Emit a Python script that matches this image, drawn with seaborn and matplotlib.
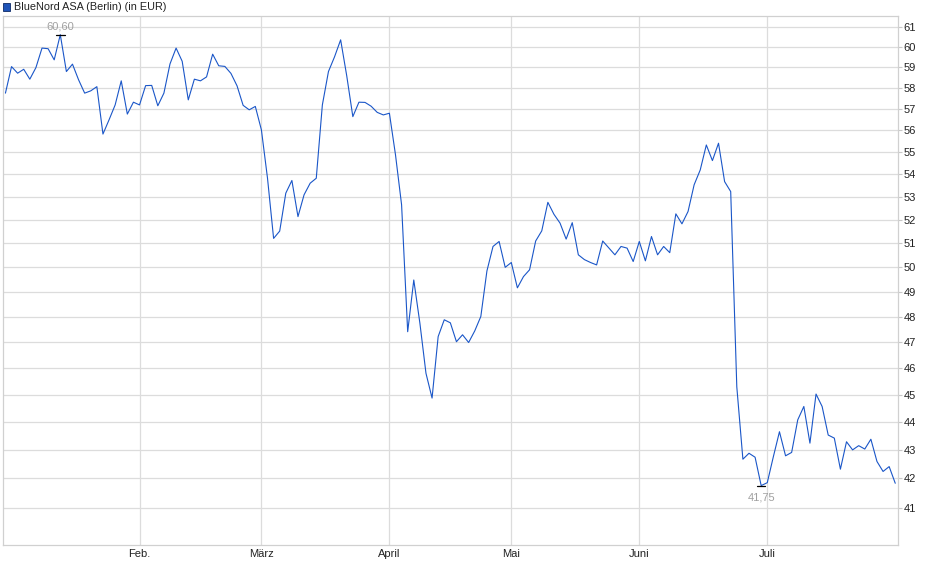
import numpy as np
import pandas as pd
import seaborn as sns
import matplotlib.pyplot as plt
from matplotlib.patches import Rectangle
from matplotlib.ticker import FixedLocator, FixedFormatter, NullLocator

# BlueNord ASA (Berlin), closing prices in EUR, one value per trading day (Jan - Jul)
close = [
    57.74, 59.02, 58.70, 58.89, 58.41, 58.97, 59.93, 59.90, 59.35, 60.60,
    58.78, 59.14, 58.38, 57.74, 57.85, 58.05, 55.82, 56.48, 57.18, 58.33,
    56.75, 57.31, 57.18, 58.10, 58.11, 57.14, 57.74, 59.15, 59.93, 59.28,
    57.42, 58.41, 58.33, 58.52, 59.63, 59.06, 59.03, 58.69, 58.09, 57.16,
    56.95, 57.11, 56.01, 53.82, 51.21, 51.52, 53.16, 53.72, 52.14, 53.09,
    53.60, 53.82, 57.18, 58.78, 59.50, 60.34, 58.57, 56.63, 57.31, 57.30,
    57.12, 56.83, 56.71, 56.79, 54.87, 52.65, 47.41, 49.48, 47.75, 45.81,
    44.88, 47.22, 47.88, 47.76, 47.02, 47.29, 46.99, 47.44, 48.01, 49.85,
    50.87, 51.08, 50.00, 50.20, 49.16, 49.62, 49.90, 51.10, 51.53, 52.76,
    52.24, 51.86, 51.18, 51.88, 50.52, 50.32, 50.20, 50.10, 51.10, 50.81,
    50.52, 50.87, 50.80, 50.24, 51.08, 50.27, 51.29, 50.52, 50.87, 50.61,
    52.26, 51.83, 52.36, 53.53, 54.19, 55.32, 54.61, 55.40, 53.67, 53.23,
    45.30, 42.67, 42.88, 42.74, 41.75, 41.85, 42.76, 43.65, 42.79, 42.91,
    44.08, 44.57, 43.24, 45.03, 44.57, 43.53, 43.42, 42.32, 43.29, 43.00,
    43.15, 43.03, 43.38, 42.59, 42.24, 42.41, 41.83,
]
day = np.arange(len(close))

# first trading day of each month (index into close)
month_pos = [22, 42, 63, 83, 104, 125]
month_labels = ["Feb.", "März", "April", "Mai", "Juni", "Juli"]
price_ticks = list(range(41, 62))

df = pd.DataFrame({"day": day, "close": close})

sns.set_style("white")
plt.rcParams["font.family"] = ["Liberation Sans", "DejaVu Sans"]

fig = plt.figure(figsize=(9.4, 5.79), dpi=100)
ax = fig.add_axes([3 / 940, 1 - 545 / 579, 895 / 940, 529 / 579])

line_color = "#1a56c8"
grid_color = "#dcdcdc"

sns.lineplot(data=df, x="day", y="close", ax=ax, color=line_color, linewidth=0.8)

ax.set_yscale("log")
ax.set_ylim(39.75, 61.54)
ax.set_xlim(-0.4, 146.45)

ax.yaxis.set_major_locator(FixedLocator(price_ticks))
ax.yaxis.set_major_formatter(FixedFormatter([str(t) for t in price_ticks]))
ax.yaxis.set_minor_locator(NullLocator())
ax.yaxis.tick_right()
ax.tick_params(axis="y", which="major", length=3, width=0.8, color="#c8c8c8",
               labelsize=8, pad=0.8, labelcolor="#222222")

ax.set_xticks(month_pos)
ax.set_xticklabels(month_labels)
ax.tick_params(axis="x", length=0, labelsize=8, pad=3, labelcolor="#222222")

ax.grid(True, color=grid_color, linewidth=0.9)
ax.set_axisbelow(True)
for s in ax.spines.values():
    s.set_color("#d0d0d0")
    s.set_linewidth(0.9)

ax.set_xlabel("")
ax.set_ylabel("")

# high / low markers
hi = int(np.argmax(close))
lo = int(np.argmin(close))
for i, dy, va in [(hi, 2, "bottom"), (lo, -5, "top")]:
    ax.plot([i - 0.7, i + 0.7], [close[i], close[i]], color="black", linewidth=0.9)
    ax.annotate(f"{close[i]:.2f}".replace(".", ","), (i, close[i]),
                textcoords="offset points", xytext=(0, dy), ha="center", va=va,
                fontsize=8, color="#a0a0a0")

# legend box
fig.add_artist(Rectangle((3 / 940, 1 - 11 / 579), 7 / 940, 8 / 579,
                         transform=fig.transFigure, facecolor="#1f54b8",
                         edgecolor="#0d2a66", linewidth=0.6))
fig.text(14 / 940, 1 - 7 / 579, "BlueNord ASA (Berlin) (in EUR)", fontsize=7.8,
         va="center", ha="left", color="#222222")

fig.savefig("out.png", dpi=100)
